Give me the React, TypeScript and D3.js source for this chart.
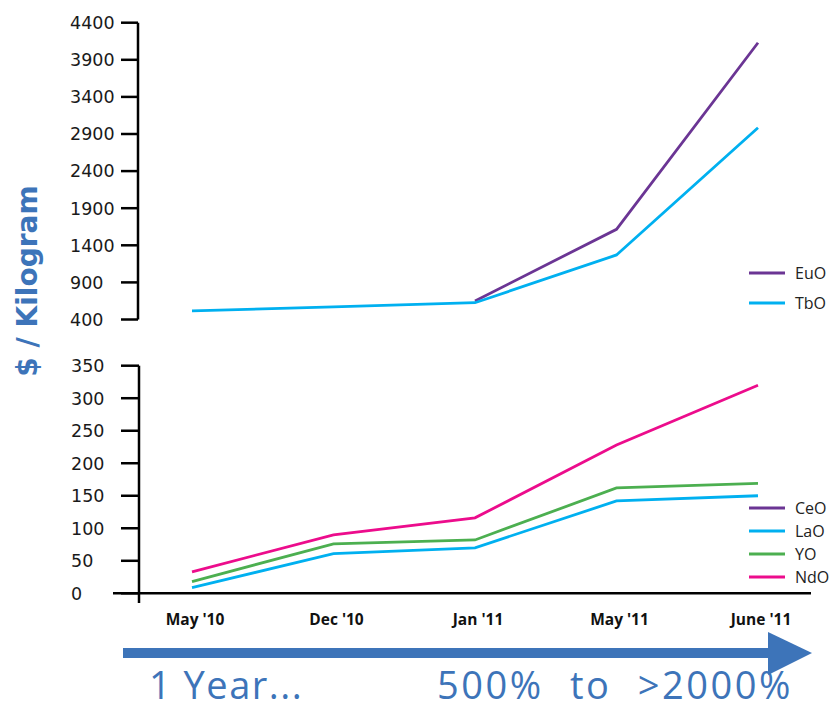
import React from "react";
import * as d3 from "d3";

const categories = ["May '10", "Dec '10", "Jan '11", "May '11", "June '11"];
const topTicks = [400, 900, 1400, 1900, 2400, 2900, 3400, 3900, 4400];
const bottomTicks = [0, 50, 100, 150, 200, 250, 300, 350];

const euoValues: (number | null)[] = [null, null, 650, 1616, 4130];
const tboValues: (number | null)[] = [515, 570, 626, 1270, 2985];
const laoValues: (number | null)[] = [8.6, 61, 70, 142, 150];
const yoValues: (number | null)[] = [18, 76, 82, 162, 169];
const ndoValues: (number | null)[] = [33, 90, 116, 228, 320];

const topSeries = [
  { name: "EuO", values: euoValues, color: "#6b3594" },
  { name: "TbO", values: tboValues, color: "#00b0f0" },
];
const bottomSeries = [
  { name: "LaO", values: laoValues, color: "#00b0f0" },
  { name: "YO", values: yoValues, color: "#4caf50" },
  { name: "NdO", values: ndoValues, color: "#ec0c8c" },
];
const topLegend = [
  { name: "EuO", color: "#6b3594" },
  { name: "TbO", color: "#00b0f0" },
];
const bottomLegend = [
  { name: "CeO", color: "#6b3594" },
  { name: "LaO", color: "#00b0f0" },
  { name: "YO", color: "#4caf50" },
  { name: "NdO", color: "#ec0c8c" },
];

const BLUE = "#3d74b9";

export default function App() {
  const x = d3.scalePoint<string>().domain(categories).range([192, 758]).padding(0);
  const yTop = d3.scaleLinear().domain([400, 4400]).range([319.5, 22.7]);
  const yBot = d3.scaleLinear().domain([0, 350]).range([593.3, 365.7]);

  const lineTop = d3
    .line<number | null>()
    .defined((d) => d != null)
    .x((_, i) => x(categories[i]) as number)
    .y((d) => yTop(d as number));
  const lineBot = d3
    .line<number | null>()
    .defined((d) => d != null)
    .x((_, i) => x(categories[i]) as number)
    .y((d) => yBot(d as number));

  const tickFont = "'DejaVu Sans', sans-serif";
  const axisTopX = 138;
  const axisBotX = 139;

  return (
    <svg
      width={830}
      height={710}
      style={{ position: "absolute", left: 0, top: 0, background: "#fff" }}
    >
      {/* Y axis title */}
      <text
        transform="translate(37,281) rotate(-90)"
        textAnchor="middle"
        fill={BLUE}
        fontFamily="'DejaVu Sans', sans-serif"
        fontWeight="bold"
        fontSize={28}
      >
        $ / Kilogram
      </text>

      {/* Top axis */}
      <line x1={axisTopX} x2={axisTopX} y1={yTop(4400)} y2={yTop(400)} stroke="#000" strokeWidth={2.5} />
      {topTicks.map((t) => (
        <g key={"tt" + t}>
          <line x1={121} x2={axisTopX} y1={yTop(t)} y2={yTop(t)} stroke="#000" strokeWidth={2.5} />
          <text x={70} y={yTop(t)} dy="0.36em" fontFamily={tickFont} fontSize={17.5} fill="#1a1a1a">
            {t}
          </text>
        </g>
      ))}
      {topSeries.map((s) => (
        <path key={s.name} d={lineTop(s.values) || ""} fill="none" stroke={s.color} strokeWidth={2.8} />
      ))}
      {topLegend.map((l, i) => (
        <g key={"tl" + l.name}>
          <line x1={749} x2={785} y1={273 + i * 30} y2={273 + i * 30} stroke={l.color} strokeWidth={3} />
          <text x={795} y={273 + i * 30} dy="0.36em" fontFamily="'Open Sans', sans-serif" fontSize={16} fill="#222">
            {l.name}
          </text>
        </g>
      ))}

      {/* Bottom axis */}
      <line x1={axisBotX} x2={axisBotX} y1={yBot(350)} y2={603} stroke="#000" strokeWidth={2.5} />
      <line x1={113} x2={811} y1={yBot(0)} y2={yBot(0)} stroke="#000" strokeWidth={2.5} />
      {bottomTicks.map((t) => (
        <g key={"bt" + t}>
          <line x1={121} x2={axisBotX} y1={yBot(t)} y2={yBot(t)} stroke="#000" strokeWidth={2.5} />
          <text x={71} y={yBot(t)} dy="0.36em" fontFamily={tickFont} fontSize={17.5} fill="#1a1a1a">
            {t}
          </text>
        </g>
      ))}
      {bottomSeries.map((s) => (
        <path key={s.name} d={lineBot(s.values) || ""} fill="none" stroke={s.color} strokeWidth={2.8} />
      ))}
      {bottomLegend.map((l, i) => (
        <g key={"bl" + l.name}>
          <line x1={749} x2={785} y1={508 + i * 23} y2={508 + i * 23} stroke={l.color} strokeWidth={3} />
          <text x={795} y={508 + i * 23} dy="0.36em" fontFamily="'Open Sans', sans-serif" fontSize={16} fill="#222">
            {l.name}
          </text>
        </g>
      ))}

      {/* X labels */}
      {categories.map((c) => (
        <text
          key={"xl" + c}
          x={(x(c) as number) + 3}
          y={625}
          textAnchor="middle"
          fontFamily="'Open Sans', sans-serif"
          fontWeight="bold"
          fontSize={15.5}
          fill="#111"
        >
          {c}
        </text>
      ))}

      {/* Arrow */}
      <rect x={123} y={648} width={650} height={10} fill={BLUE} />
      <polygon points="768,632 812,653 768,675" fill={BLUE} />

      {/* Bottom captions */}
      <text x={149} y={699} fontFamily="'Open Sans', sans-serif" fontSize={38} fill={BLUE} letterSpacing={1.5}>
        1 Year...
      </text>
      <text
        x={437}
        y={699}
        fontFamily="'Open Sans', sans-serif"
        fontSize={38}
        fill={BLUE}
        letterSpacing={2.5}
        wordSpacing={14}
        style={{ whiteSpace: "pre" }}
      >
        500% to &gt;2000%
      </text>
    </svg>
  );
}
